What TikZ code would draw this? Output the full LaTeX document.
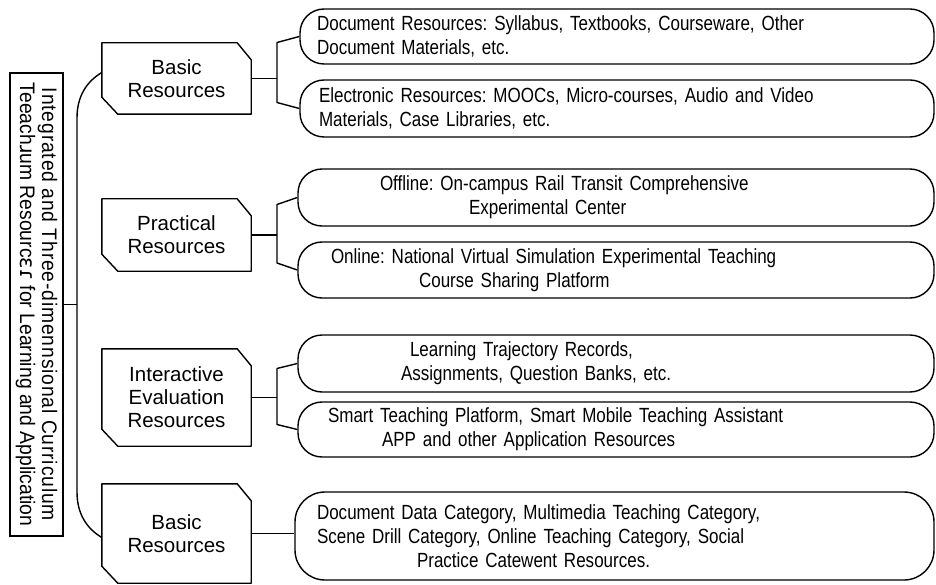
\documentclass[tikz,border=0pt]{standalone}
\usepackage{fontspec}
\setmainfont{Liberation Sans}
\newfontfamily\leaffont[FakeStretch=0.83]{Liberation Sans}
\newfontfamily\rootfont[FakeStretch=0.92]{Liberation Sans}
\newfontfamily\rootwidefont[FakeStretch=0.92, LetterSpace=4]{Liberation Sans}
\newfontfamily\ipafont{DejaVu Sans}
\usetikzlibrary{calc}
\frenchspacing

% outline of a category box: chamfered top-right and bottom-left corners
\newcommand\chamferoutline[1]{%
  \draw[boxline] (#1.north west) -- ([xshift=-14pt]#1.north east)
    -- ([yshift=-17pt]#1.north east) -- (#1.south east)
    -- ([xshift=16pt]#1.south west) -- ([yshift=17pt]#1.south west) -- cycle;}

\tikzset{
  boxline/.style={line width=1.4pt, draw=black, line join=round},
  conn/.style={line width=1.4pt, draw=black, line join=round},
  titlebox/.style={rectangle, draw, line width=1.4pt, rotate=-90, inner sep=0pt,
    minimum width=463pt, minimum height=53pt, align=center,
    font=\rootfont\fontsize{21pt}{22pt}\selectfont},
  catbox/.style={rectangle, minimum width=149pt, inner sep=0pt, align=center,
    font=\fontsize{20.5pt}{23pt}\selectfont},
  leaf/.style={rectangle, draw, line width=1.4pt, rounded corners=24pt,
    inner xsep=17pt, inner ysep=0pt, align=left,
    font=\leaffont\fontsize{20.5pt}{24pt}\selectfont},
}

\begin{document}
\begin{tikzpicture}[x=1pt, y=-1pt]
\fill[white] (0,0) rectangle (936,585);
\useasboundingbox (0,0) rectangle (936,585);

% root
\node[titlebox] (title) at (36.5,304.5)
  {{\rootwidefont Integrated and Three-dimennsional Curriculum}\\
   Teeach{\ipafont ɹ}um Resourc{\ipafont εɾ} for Learning and Application};

% categories
\node[catbox, minimum height=71pt] (c1) at (176.5,78.5) {Basic\\Resources};
\node[catbox, minimum height=72pt] (c2) at (176.5,235) {Practical\\Resources};
\node[catbox, minimum height=97pt] (c3) at (176.5,397.5) {Interactive\\Evaluation\\Resources};
\node[catbox, minimum height=99pt] (c4) at (176.5,533.5) {Basic\\Resources};
\chamferoutline{c1}
\chamferoutline{c2}
\chamferoutline{c3}
\chamferoutline{c4}

% leaves
\node[leaf, text width=600pt, minimum height=55pt] (docres) at (617,36.5)
  {Document Resources: Syllabus, Textbooks, Courseware, Other\\
   Document Materials, etc.};
\node[leaf, text width=600pt, minimum height=57pt] (elecres) at (617,108.5)
  {\hspace*{2pt}Electronic Resources: MOOCs, Micro-courses, Audio and Video\\
   \hspace*{2pt}Materials, Case Libraries, etc.};
\node[leaf, text width=602pt, minimum height=57pt] (offline) at (616,197.5)
  {\hspace*{65pt}Offline: On-campus Rail Transit Comprehensive\\
   \hspace*{154pt}Experimental Center};
\node[leaf, text width=602pt, minimum height=56pt] (online) at (616,270)
  {\hspace*{16pt}Online: National Virtual Simulation Experimental Teaching\\
   \hspace*{104pt}Course Sharing Platform};
\node[leaf, text width=602pt, minimum height=57pt] (records) at (616,363.5)
  {\hspace*{95pt}Learning Trajectory Records,\\
   \hspace*{86pt}Assignments, Question Banks, etc.};
\node[leaf, text width=602pt, minimum height=55pt] (smart) at (616,429.5)
  {\hspace*{13pt}Smart Teaching Platform, Smart Mobile Teaching Assistant\\
   \hspace*{67pt}APP and other Application Resources};
\node[leaf, text width=605pt, minimum height=88pt, rounded corners=30pt] (categ) at (614.5,536)
  {\hspace*{5pt}Document Data Category, Multimedia Teaching Category,\\
   \hspace*{5pt}Scene Drill Category, Online Teaching Category, Social\\
   \hspace*{105pt}Practice Catewent Resources.};

% trunk joining the first and last category, fed by the root
\coordinate (trunktop) at (77,118);
\coordinate (trunkbot) at (77,492);
\draw[conn] ([yshift=6pt]c1.west) .. controls +(-15,9) and +(0,-22) .. (trunktop)
  -- (trunkbot) .. controls +(0,22) and +(-15,-9) .. ([yshift=-4pt]c4.west);
\draw[conn] (title.north) -- (title.north -| trunktop);

% brackets from categories to their leaves
\coordinate (bx) at (277,0);
\draw[conn] (c1.east) -- (c1.east -| bx);
\draw[conn] (docres.west) -- ($(docres.west -| bx)+(0,6)$)
  -- ($(elecres.west -| bx)+(0,-6)$) -- (elecres.west);
\draw[conn] (c2.east) -- (c2.east -| bx);
\draw[conn] (offline.west) -- ($(offline.west -| bx)+(0,7)$)
  -- ($(online.west -| bx)+(0,-7)$) -- (online.west);
\draw[conn] (c3.east) -- (c3.east -| bx);
\draw[conn] (records.west) -- ($(records.west -| bx)+(0,5)$)
  -- ($(smart.west -| bx)+(0,-5)$) -- (smart.west);
\draw[conn] (c4.east) -- (c4.east -| categ.west);
\end{tikzpicture}
\end{document}
